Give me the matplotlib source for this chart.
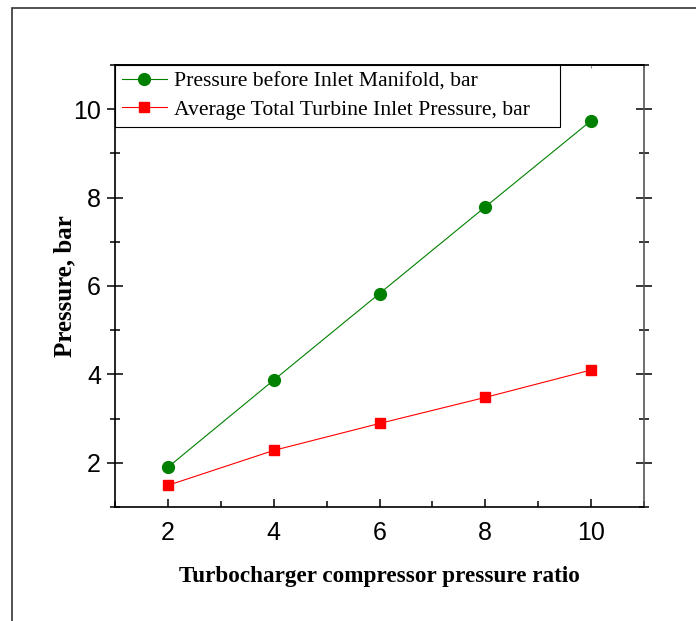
import numpy as np
import matplotlib
matplotlib.use("Agg")
import matplotlib.pyplot as plt
from matplotlib.patches import Rectangle
from matplotlib.ticker import MultipleLocator

# data
pressure_ratio = [2, 4, 6, 8, 10]
p_before_manifold = [1.9, 3.87, 5.83, 7.79, 9.74]
p_turbine_inlet = [1.49, 2.28, 2.89, 3.48, 4.1]

label_green = "Pressure before Inlet Manifold, bar"
label_red = "Average Total Turbine Inlet Pressure, bar"

serif = ["Liberation Serif", "DejaVu Serif"]
sans = ["Liberation Sans", "DejaVu Sans"]

fig = plt.figure(figsize=(6.96, 6.21), dpi=100)

# outer frame round the whole picture (open on right and bottom)
fig.patches.append(Rectangle((12 / 696, -0.1), 1.2, 1 - 8 / 621 + 0.1,
                             transform=fig.transFigure, fill=False,
                             edgecolor="#333333", linewidth=1.2, clip_on=False))

ax = fig.add_axes([115 / 696, 1 - 507 / 621, (644 - 115) / 696, (507 - 65) / 621])

ax.plot(pressure_ratio, p_before_manifold, color="green", lw=0.8,
        marker="o", markersize=8.5, label=label_green)
ax.plot(pressure_ratio, p_turbine_inlet, color="red", lw=0.8,
        marker="s", markersize=7, label=label_red)

ax.set_xlim(1, 11)
ax.set_ylim(1, 11)
ax.xaxis.set_major_locator(MultipleLocator(2))
ax.xaxis.set_minor_locator(MultipleLocator(1))
ax.yaxis.set_major_locator(MultipleLocator(2))
ax.yaxis.set_minor_locator(MultipleLocator(1))

ax.tick_params(axis="y", which="major", direction="inout", length=12, width=1.1,
               left=True, right=True, pad=4)
ax.tick_params(axis="y", which="minor", direction="inout", length=6.5, width=1.1,
               left=True, right=True)
ax.tick_params(axis="x", which="major", direction="in", length=6, width=1.1, pad=10)
ax.tick_params(axis="x", which="minor", direction="in", length=4, width=1.1)

for lab in ax.get_xticklabels() + ax.get_yticklabels():
    lab.set_fontfamily(sans)
    lab.set_fontsize(18)

for s in ax.spines.values():
    s.set_linewidth(1.2)
ax.spines["right"].set_color("#555555")

top = ax.secondary_xaxis("top")
top.xaxis.set_major_locator(MultipleLocator(1))
top.tick_params(direction="in", length=2.5, width=0.8, labeltop=False, color="#888888")
top.spines["top"].set_linewidth(1.2)

ax.set_xlabel("Turbocharger compressor pressure ratio", fontfamily=serif,
              fontsize=16.7, fontweight="bold", labelpad=15)
ax.set_ylabel("Pressure, bar", fontfamily=serif, fontsize=18,
              fontweight="bold", labelpad=-2)

leg = ax.legend(loc="upper left", bbox_to_anchor=(0, 1, (560 - 115) / 529, 0),
                mode="expand", borderaxespad=0, fancybox=False, shadow=False,
                prop={"family": serif, "size": 15.6}, handlelength=2.1,
                handletextpad=0.3, labelspacing=0.38, borderpad=0.3)
leg.get_frame().set_edgecolor("black")
leg.get_frame().set_linewidth(0.8)
leg.get_frame().set_alpha(1)

fig.savefig("out.png", dpi=100)
